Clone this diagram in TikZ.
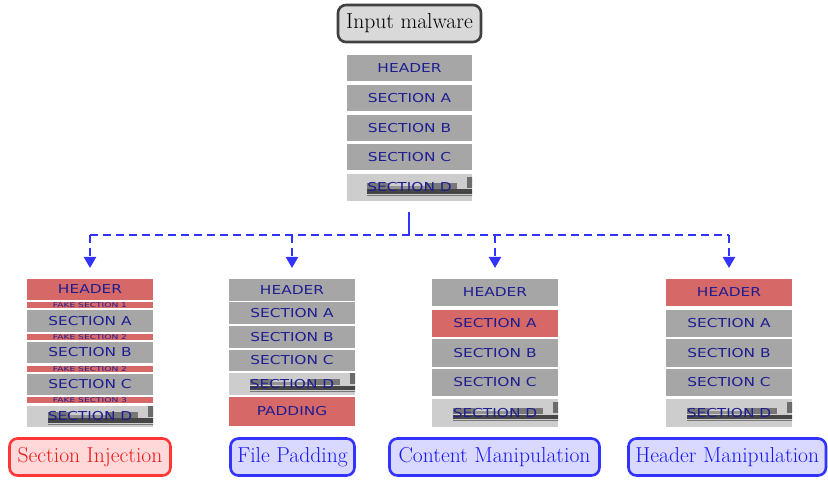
\documentclass[tikz,border=0pt]{standalone}
\usepackage{fontspec}
\usepackage{graphicx}
\newfontfamily\dvfont{DejaVu Sans}
\usetikzlibrary{arrows.meta}
\definecolor{gryc}{RGB}{166,166,166}
\definecolor{redc}{RGB}{214,104,104}
\definecolor{txtc}{RGB}{30,30,145}
\definecolor{lnc}{RGB}{51,51,255}
\definecolor{ltxt}{RGB}{25,25,245}
\definecolor{rtxt}{RGB}{240,25,25}
\definecolor{bfill}{RGB}{217,217,255}
\definecolor{rdraw}{RGB}{255,55,55}
\definecolor{rfill}{RGB}{255,217,217}
\definecolor{tfill}{RGB}{217,217,217}
\definecolor{tdraw}{RGB}{64,64,64}
\definecolor{dlight}{RGB}{205,205,205}
\definecolor{ddark}{RGB}{70,70,70}
\definecolor{dmid}{RGB}{120,120,120}
\newcommand\bt[1]{\scalebox{1.25}[1]{\dvfont\fontsize{12.3}{12.3}\selectfont #1}}
\newcommand\ft[1]{\scalebox{1.4}[1]{\dvfont\fontsize{6.5}{7}\selectfont #1}}
\newcommand\blk[7]{\node[#6, minimum width={(#4-#2)*1pt}, minimum height={(#5-#3)*1pt}] (#1) at ({(#2+#4)/2},{(#3+#5)/2}) {#7};}
\tikzset{
  block/.style={inner sep=0pt, outer sep=0pt, text=txtc},
  gblk/.style={block, fill=gryc},
  rblk/.style={block, fill=redc},
  dblk/.style={block, fill=dlight, path picture={
    \begin{scope}[shift={(path picture bounding box.north west)}]
      \fill[ddark] (0,0) rectangle (130,2);
      \fill[dmid] (0,3) rectangle (130,4);
    \end{scope}
    \begin{scope}[shift={(path picture bounding box.south west)}]
      \fill[ddark] (0,0) rectangle (130,-2.5);
      \fill[dmid] (0,-3) rectangle (22,-9);
      \fill[dmid!80] (22,-3) rectangle (58,-6);
      \fill[dmid] (58,-3) rectangle (90,-9);
      \fill[ddark!80] (100,-4) rectangle (130,-15);
    \end{scope}}},
  lbl/.style={rounded corners=8pt, line width=2.6pt, inner sep=0pt, font=\fontsize{21.6}{25}\selectfont},
  rlbl/.style={lbl, draw=rdraw, fill=rfill, text=rtxt},
  blbl/.style={lbl, draw=lnc, fill=bfill, text=ltxt},
  tlbl/.style={lbl, draw=tdraw, fill=tfill, text=black},
  dsh/.style={draw=lnc, line width=2.2pt, dash pattern=on 8pt off 5pt},
  arr/.style={dsh, -{Triangle[width=12pt,length=11pt]}, shorten >=11pt}
}
\begin{document}
\begin{tikzpicture}[x=1pt,y=-1pt]
\useasboundingbox (0,0) rectangle (828,481);
% top
\blk{top}{338}{5}{481}{42}{tlbl}{Input malware}
\blk{t0}{347}{55}{472}{81}{gblk}{\bt{HEADER}}
\blk{t1}{347}{85}{472}{111}{gblk}{\bt{SECTION A}}
\blk{t2}{347}{115}{472}{141}{gblk}{\bt{SECTION B}}
\blk{t3}{347}{144}{472}{170}{gblk}{\bt{SECTION C}}
\blk{t4}{347}{174}{472}{201}{dblk}{\bt{SECTION D}}
% injection
\blk{i0}{27}{279}{153}{300}{rblk}{\bt{HEADER}}
\blk{if1}{27}{302}{153}{308}{rblk}{\ft{FAKE SECTION 1}}
\blk{i1}{27}{310}{153}{332}{gblk}{\bt{SECTION A}}
\blk{if2}{27}{334}{153}{340}{rblk}{\ft{FAKE SECTION 2}}
\blk{i2}{27}{342}{153}{363}{gblk}{\bt{SECTION B}}
\blk{if3}{27}{366}{153}{372}{rblk}{\ft{FAKE SECTION 2}}
\blk{i3}{27}{374}{153}{395}{gblk}{\bt{SECTION C}}
\blk{if4}{27}{397}{153}{403}{rblk}{\ft{FAKE SECTION 3}}
\blk{i4}{27}{406}{153}{427}{dblk}{\bt{SECTION D}}
% padding
\blk{p0}{229}{279}{355}{301}{gblk}{\bt{HEADER}}
\blk{p1}{229}{302}{355}{324}{gblk}{\bt{SECTION A}}
\blk{p2}{229}{326}{355}{348}{gblk}{\bt{SECTION B}}
\blk{p3}{229}{350}{355}{371}{gblk}{\bt{SECTION C}}
\blk{p4}{229}{373}{355}{395}{dblk}{\bt{SECTION D}}
\blk{p5}{229}{397}{355}{426}{rblk}{\bt{PADDING}}
% content
\blk{c0}{432}{279}{558}{306}{gblk}{\bt{HEADER}}
\blk{c1}{432}{310}{558}{337}{rblk}{\bt{SECTION A}}
\blk{c2}{432}{339}{558}{367}{gblk}{\bt{SECTION B}}
\blk{c3}{432}{369}{558}{396}{gblk}{\bt{SECTION C}}
\blk{c4}{432}{399}{558}{427}{dblk}{\bt{SECTION D}}
% header
\blk{h0}{666}{279}{792}{306}{rblk}{\bt{HEADER}}
\blk{h1}{666}{310}{792}{337}{gblk}{\bt{SECTION A}}
\blk{h2}{666}{339}{792}{367}{gblk}{\bt{SECTION B}}
\blk{h3}{666}{369}{792}{396}{gblk}{\bt{SECTION C}}
\blk{h4}{666}{399}{792}{427}{dblk}{\bt{SECTION D}}
% labels
\blk{L1}{9.5}{438.5}{170.5}{475.5}{rlbl}{Section Injection}
\blk{L2}{230.5}{438.5}{354.5}{475.5}{blbl}{File Padding}
\blk{L3}{389.5}{438.5}{599.5}{475.5}{blbl}{Content Manipulation}
\blk{L4}{628.5}{438.5}{826}{475.5}{blbl}{Header Manipulation}
% connectors
\coordinate (j) at (409,235);
\coordinate (d1) at (90,235);
\coordinate (d2) at (292,235);
\coordinate (d3) at (495,235);
\coordinate (d4) at (729,235);
\draw[dsh, solid, shorten <=11pt] (t4.south -| j) -- (j);
\draw[dsh] (d1) -- (d4);
\draw[arr] (d1) -- (i0.north);
\draw[arr] (d2) -- (p0.north);
\draw[arr] (d3) -- (c0.north);
\draw[arr] (d4) -- (h0.north);
\end{tikzpicture}
\end{document}
